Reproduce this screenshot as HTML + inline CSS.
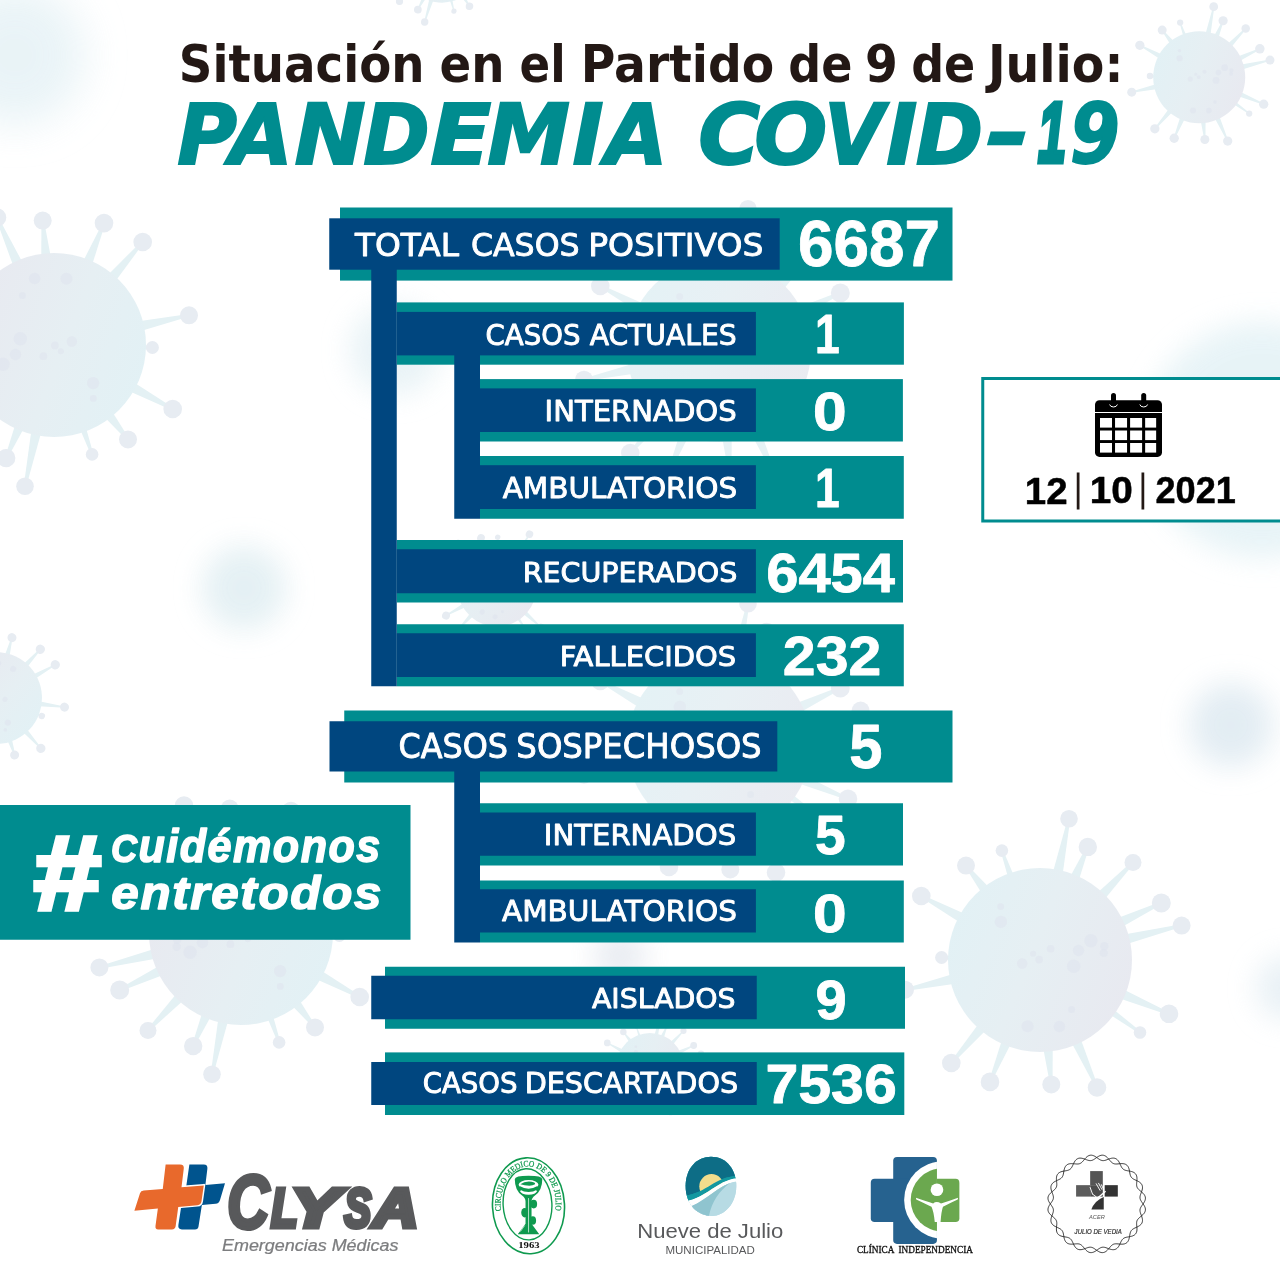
<!DOCTYPE html>
<html lang="es">
<head>
<meta charset="utf-8">
<title>Situación en el Partido de 9 de Julio: Pandemia COVID-19</title>
<style>
html,body{margin:0;padding:0;background:#fff}
body{width:1280px;height:1280px;overflow:hidden;font-family:"Liberation Sans",sans-serif}
svg{display:block}
text{white-space:pre}
</style>
</head>
<body>
<svg width="1280" height="1280" viewBox="0 0 1280 1280">
<rect width="1280" height="1280" fill="#fff"/>
<defs>
<linearGradient id="vg" x1="0" y1="0.3" x2="1" y2="0.7"><stop offset="0" stop-color="#e2f1f5"/><stop offset="0.45" stop-color="#e6eff3"/><stop offset="1" stop-color="#e8e9f0"/></linearGradient>
<g id="vir"><polygon points="21.4,-76.38 30.27,-140.94 27.73,-141.46 10.43,-78.63" fill="#e4f1f4"/><circle cx="29" cy="-141.2" r="8.8" fill="#e7ecf2"/><polygon points="35.96,-70.7 49,-112.59 46.6,-113.61 25.64,-75.06" fill="#e4f1f4"/><circle cx="47.8" cy="-113.1" r="9.2" fill="#e7ecf2"/><polygon points="58.66,-53.39 93.94,-96.6 92.06,-98.4 50.56,-61.12" fill="#e4f1f4"/><circle cx="93" cy="-97.5" r="8.5" fill="#e7ecf2"/><polygon points="73.99,-28.58 121.85,-55.82 120.75,-58.18 69.23,-38.72" fill="#e4f1f4"/><circle cx="121.3" cy="-57" r="9.5" fill="#e7ecf2"/><polygon points="78.21,-13.24 141.91,-33.14 141.29,-35.66 75.56,-24.12" fill="#e4f1f4"/><circle cx="141.6" cy="-34.4" r="9" fill="#e7ecf2"/><polygon points="70.87,35.62 128.5,55 129.5,52.6 75.18,25.29" fill="#e4f1f4"/><circle cx="129" cy="53.8" r="9.3" fill="#e7ecf2"/><polygon points="61.94,49.36 99.24,73.55 100.76,71.45 66.17,43.53" fill="#e4f1f4"/><circle cx="100" cy="72.5" r="6.3" fill="#e7ecf2"/><polygon points="27.18,74.52 55.81,128.03 58.19,126.97 37.4,69.94" fill="#e4f1f4"/><circle cx="57" cy="127.5" r="9.3" fill="#e7ecf2"/><polygon points="1.58,79.3 10.01,124.52 12.59,124.28 12.73,78.29" fill="#e4f1f4"/><circle cx="11.3" cy="124.4" r="9" fill="#e7ecf2"/><polygon points="-35.21,71.08 -51.2,121.41 -48.8,122.39 -24.84,75.33" fill="#e4f1f4"/><circle cx="-50" cy="121.9" r="9.3" fill="#e7ecf2"/><polygon points="-55.87,56.3 -89.69,102.15 -87.71,103.85 -47.39,63.61" fill="#e4f1f4"/><circle cx="-88.7" cy="103" r="9.3" fill="#e7ecf2"/><polygon points="-78.48,11.53 -135.28,28.43 -134.72,30.97 -76.07,22.47" fill="#e4f1f4"/><circle cx="-135" cy="29.7" r="9" fill="#e7ecf2"/><polygon points="-79,-5.61 -98.37,-3.8 -98.43,-1.2 -79.19,1.59" fill="#e4f1f4"/><circle cx="-98.4" cy="-2.5" r="6.5" fill="#e7ecf2"/><polygon points="-66.98,-42.48 -118.08,-65.14 -119.32,-62.86 -72.3,-32.62" fill="#e4f1f4"/><circle cx="-118.7" cy="-64" r="9.3" fill="#e7ecf2"/><polygon points="-44.4,-65.72 -72.98,-95.2 -75.02,-93.6 -53.22,-58.81" fill="#e4f1f4"/><circle cx="-74" cy="-94.4" r="9" fill="#e7ecf2"/><polygon points="-22.62,-75.9 -36.87,-109.83 -39.33,-108.97 -29.42,-73.53" fill="#e4f1f4"/><circle cx="-38.1" cy="-109.4" r="6.3" fill="#e7ecf2"/><circle r="92" fill="url(#vg)"/><circle cx="-39.11" cy="-38.09" r="6.18" fill="#e0e4ee" opacity="0.6"/><circle cx="50.94" cy="-19.26" r="6.69" fill="#e0e4ee" opacity="0.6"/><circle cx="33.7" cy="6.21" r="6.77" fill="#e0e4ee" opacity="0.6"/><circle cx="-39.32" cy="-53.39" r="3.45" fill="#e0e4ee" opacity="0.6"/><circle cx="-17.81" cy="3.5" r="5.18" fill="#e0e4ee" opacity="0.6"/><circle cx="-0.86" cy="-0.43" r="3.87" fill="#e0e4ee" opacity="0.6"/><circle cx="-12.42" cy="66.29" r="6.06" fill="#e0e4ee" opacity="0.6"/><circle cx="31.56" cy="49.46" r="3.56" fill="#e0e4ee" opacity="0.6"/><circle cx="-6.9" cy="-6.27" r="3.01" fill="#e0e4ee" opacity="0.6"/><circle cx="10.65" cy="-11.14" r="3.86" fill="#e0e4ee" opacity="0.6"/><circle cx="63.82" cy="-7.08" r="4.16" fill="#e0e4ee" opacity="0.6"/><circle cx="38.53" cy="-9.51" r="5.71" fill="#e0e4ee" opacity="0.6"/><circle cx="19.41" cy="66.48" r="5.76" fill="#e0e4ee" opacity="0.6"/><circle cx="64.33" cy="-13.72" r="4.2" fill="#e0e4ee" opacity="0.6"/></g>
<filter id="b2" x="-50%" y="-50%" width="200%" height="200%"><feGaussianBlur stdDeviation="2"/></filter>
<filter id="b4" x="-50%" y="-50%" width="200%" height="200%"><feGaussianBlur stdDeviation="4"/></filter>
<filter id="b8" x="-50%" y="-50%" width="200%" height="200%"><feGaussianBlur stdDeviation="8"/></filter>
<filter id="b14" x="-50%" y="-50%" width="200%" height="200%"><feGaussianBlur stdDeviation="14"/></filter>
<filter id="b20" x="-50%" y="-50%" width="200%" height="200%"><feGaussianBlur stdDeviation="20"/></filter>
</defs>
<g id="bg">
<circle cx="15" cy="55" r="70" fill="#e4f1f5" filter="url(#b20)" opacity="0.8"/>
<circle cx="244" cy="588" r="42" fill="#e2eff3" filter="url(#b14)" opacity="0.9"/>
<circle cx="1262" cy="440" r="118" fill="#e0f0f4" filter="url(#b14)" opacity="0.75"/>
<circle cx="1231" cy="725" r="42" fill="#e0ebf2" filter="url(#b14)" opacity="0.9"/>
<circle cx="1288" cy="988" r="32" fill="#e0ebf2" filter="url(#b14)" opacity="0.7"/>
<circle cx="395" cy="350" r="45" fill="#e0eef3" filter="url(#b14)" opacity="0.7"/>
<circle cx="620" cy="956" r="26" fill="#e3e7ee" filter="url(#b14)" opacity="0.8"/>
<use href="#vir" transform="translate(54 345) rotate(180) scale(1)"/>
<use href="#vir" transform="translate(1199.2 77.3) rotate(0) scale(0.5)"/>
<use href="#vir" transform="translate(1040 960) rotate(0) scale(1)"/>
<use href="#vir" transform="translate(241 933) rotate(180) scale(1)"/>
<use href="#vir" transform="translate(719 350) rotate(0) scale(1)" opacity="0.9"/>
<use href="#vir" transform="translate(719 745) rotate(0) scale(1)" opacity="0.9"/>
<use href="#vir" transform="translate(442 -36) rotate(185) scale(0.42)"/>
<use href="#vir" transform="translate(-4 698) rotate(200) scale(0.5)"/>
<use href="#vir" transform="translate(497 587) rotate(20) scale(0.43)"/>
<use href="#vir" transform="translate(650 1066) rotate(0) scale(0.36)"/>
</g>
<g id="title">
<text transform="translate(178.83 81.9) scale(1.0161 1)" font-family="'DejaVu Sans Condensed', sans-serif" font-weight="bold" font-size="51.1" fill="#231815" textLength="241.89" lengthAdjust="spacingAndGlyphs">Situación</text>
<text transform="translate(439.55 81.9) scale(1.0158 1)" font-family="'DejaVu Sans Condensed', sans-serif" font-weight="bold" font-size="51.1" fill="#231815" textLength="63.92" lengthAdjust="spacingAndGlyphs">en</text>
<text transform="translate(519.52 81.9) scale(0.9822 1)" font-family="'DejaVu Sans Condensed', sans-serif" font-weight="bold" font-size="51.1" fill="#231815" textLength="46.93" lengthAdjust="spacingAndGlyphs">el</text>
<text transform="translate(580.87 81.9) scale(1.0268 1)" font-family="'DejaVu Sans Condensed', sans-serif" font-weight="bold" font-size="51.1" fill="#231815" textLength="188.22" lengthAdjust="spacingAndGlyphs">Partido</text>
<text transform="translate(788.26 81.9)" font-family="'DejaVu Sans Condensed', sans-serif" font-weight="bold" font-size="51.1" fill="#231815" textLength="64.1" lengthAdjust="spacingAndGlyphs">de</text>
<text transform="translate(865.01 81.9) scale(1.0263 1)" font-family="'DejaVu Sans Condensed', sans-serif" font-weight="bold" font-size="51.1" fill="#231815" textLength="31.98" lengthAdjust="spacingAndGlyphs">9</text>
<text transform="translate(911.16 81.9)" font-family="'DejaVu Sans Condensed', sans-serif" font-weight="bold" font-size="51.1" fill="#231815" textLength="64.1" lengthAdjust="spacingAndGlyphs">de</text>
<text transform="translate(987.94 81.9) scale(1.0321 1)" font-family="'DejaVu Sans Condensed', sans-serif" font-weight="bold" font-size="51.1" fill="#231815" textLength="131.29" lengthAdjust="spacingAndGlyphs">Julio:</text>
<text aria-label="PANDEMIA COVID-19" font-family="'DejaVu Sans', sans-serif" font-weight="bold" font-style="oblique" fill="#008c8f" stroke="#008c8f" stroke-width="2" stroke-linejoin="miter"><tspan x="177.26" y="163.8" font-size="84.38" textLength="59.79" lengthAdjust="spacingAndGlyphs">P</tspan><tspan x="229.5" y="163.8" font-size="84.38" textLength="63.15" lengthAdjust="spacingAndGlyphs">A</tspan><tspan x="294.58" y="163.8" font-size="84.38" textLength="71.28" lengthAdjust="spacingAndGlyphs">N</tspan><tspan x="363.2" y="163.8" font-size="84.38" textLength="66.52" lengthAdjust="spacingAndGlyphs">D</tspan><tspan x="430.19" y="163.8" font-size="84.38" textLength="61.09" lengthAdjust="spacingAndGlyphs">E</tspan><tspan x="487.13" y="163.8" font-size="84.38" textLength="82.85" lengthAdjust="spacingAndGlyphs">M</tspan><tspan x="572.52" y="163.8" font-size="84.38" textLength="31.13" lengthAdjust="spacingAndGlyphs">I</tspan><tspan x="605.04" y="163.8" font-size="84.38" textLength="62.43" lengthAdjust="spacingAndGlyphs">A</tspan> <tspan x="698.35" y="163.54" font-size="83.96" textLength="61.81" lengthAdjust="spacingAndGlyphs">C</tspan><tspan x="754.19" y="163.54" font-size="83.96" textLength="73.02" lengthAdjust="spacingAndGlyphs">O</tspan><tspan x="824.31" y="163.8" font-size="84.38" textLength="59.78" lengthAdjust="spacingAndGlyphs">V</tspan><tspan x="886.32" y="163.8" font-size="84.38" textLength="31.13" lengthAdjust="spacingAndGlyphs">I</tspan><tspan x="915.77" y="163.8" font-size="84.38" textLength="67.39" lengthAdjust="spacingAndGlyphs">D</tspan><tspan x="987.88" y="159.25" font-size="77.5" textLength="37.2" lengthAdjust="spacingAndGlyphs" font-family="'Liberation Sans', sans-serif" font-weight="bold" font-style="italic" stroke-width="4.5">-</tspan><tspan x="1038.02" y="162.3" font-size="85.24" textLength="28.1" lengthAdjust="spacingAndGlyphs" font-family="'Liberation Sans', sans-serif" font-weight="bold" font-style="italic" stroke-width="5">1</tspan><tspan x="1069.96" y="163.34" font-size="83.71" textLength="49.85" lengthAdjust="spacingAndGlyphs">9</tspan></text>
</g>
<g id="bars">
<rect x="340" y="207.5" width="612.5" height="73.1" fill="#008c8f"/>
<rect x="396.75" y="302.4" width="507.15" height="62.3" fill="#008c8f"/>
<rect x="480" y="379.1" width="422.9" height="62.4" fill="#008c8f"/>
<rect x="480" y="456" width="423.8" height="62.75" fill="#008c8f"/>
<rect x="396.75" y="540" width="506.25" height="62.5" fill="#008c8f"/>
<rect x="396.75" y="624.25" width="507.05" height="62.05" fill="#008c8f"/>
<rect x="344.25" y="710.5" width="608.25" height="72" fill="#008c8f"/>
<rect x="480" y="803.25" width="423" height="62.25" fill="#008c8f"/>
<rect x="480" y="880.5" width="423.8" height="62" fill="#008c8f"/>
<rect x="385" y="966.75" width="520" height="62" fill="#008c8f"/>
<rect x="385" y="1052.4" width="519.3" height="62.6" fill="#008c8f"/>
<rect x="329.25" y="218.3" width="450.45" height="51.4" fill="#00467f"/>
<rect x="396.75" y="311.9" width="359.15" height="43.5" fill="#00467f"/>
<rect x="480" y="388.4" width="275.9" height="43.6" fill="#00467f"/>
<rect x="480" y="465.2" width="275.9" height="43.8" fill="#00467f"/>
<rect x="396.75" y="549.25" width="359.15" height="44" fill="#00467f"/>
<rect x="396.75" y="633.25" width="359.15" height="43.75" fill="#00467f"/>
<rect x="329.5" y="721.25" width="447.8" height="50.25" fill="#00467f"/>
<rect x="480" y="812.5" width="275.9" height="43.25" fill="#00467f"/>
<rect x="480" y="889.25" width="275.9" height="43.25" fill="#00467f"/>
<rect x="371.25" y="975.75" width="385.5" height="43.5" fill="#00467f"/>
<rect x="371.25" y="1062" width="385.5" height="43" fill="#00467f"/>
<rect x="371.25" y="269" width="25.5" height="417.25" fill="#00467f"/>
<rect x="454.25" y="355" width="25.75" height="163.75" fill="#00467f"/>
<rect x="454.25" y="771" width="25.75" height="171.5" fill="#00467f"/>
</g>
<g id="labels">
<text transform="translate(355.03 255.95) scale(1.0269 1)" font-family="'DejaVu Sans', sans-serif" font-size="31.92" fill="#fff" stroke="#fff" stroke-width="0.9" stroke-linejoin="round" textLength="101.26" lengthAdjust="spacingAndGlyphs">TOTAL</text>
<text transform="translate(470.91 255.95) scale(0.9907 1)" font-family="'DejaVu Sans', sans-serif" font-size="31.92" fill="#fff" stroke="#fff" stroke-width="0.9" stroke-linejoin="round" textLength="109.76" lengthAdjust="spacingAndGlyphs">CASOS</text>
<text transform="translate(588.13 255.95) scale(1.0335 1)" font-family="'DejaVu Sans', sans-serif" font-size="31.92" fill="#fff" stroke="#fff" stroke-width="0.9" stroke-linejoin="round" textLength="169.61" lengthAdjust="spacingAndGlyphs">POSITIVOS</text>
<text transform="translate(485.53 345.05) scale(0.9911 1)" font-family="'DejaVu Sans', sans-serif" font-size="27.88" fill="#fff" stroke="#fff" stroke-width="0.9" stroke-linejoin="round" textLength="95.87" lengthAdjust="spacingAndGlyphs">CASOS</text>
<text transform="translate(589.64 345.05) scale(1.0116 1)" font-family="'DejaVu Sans', sans-serif" font-size="27.88" fill="#fff" stroke="#fff" stroke-width="0.9" stroke-linejoin="round" textLength="145.39" lengthAdjust="spacingAndGlyphs">ACTUALES</text>
<text transform="translate(544.62 420.8) scale(1.0429 1)" font-family="'DejaVu Sans', sans-serif" font-size="27.88" fill="#fff" stroke="#fff" stroke-width="0.9" stroke-linejoin="round" textLength="184.11" lengthAdjust="spacingAndGlyphs">INTERNADOS</text>
<text transform="translate(502.73 497.55) scale(1.0562 1)" font-family="'DejaVu Sans', sans-serif" font-size="27.88" fill="#fff" stroke="#fff" stroke-width="0.9" stroke-linejoin="round" textLength="221.93" lengthAdjust="spacingAndGlyphs">AMBULATORIOS</text>
<text transform="translate(522.67 581.55) scale(1.0496 1)" font-family="'DejaVu Sans', sans-serif" font-size="27.19" fill="#fff" stroke="#fff" stroke-width="0.9" stroke-linejoin="round" textLength="204.54" lengthAdjust="spacingAndGlyphs">RECUPERADOS</text>
<text transform="translate(559.63 665.8) scale(1.0642 1)" font-family="'DejaVu Sans', sans-serif" font-size="27.19" fill="#fff" stroke="#fff" stroke-width="0.9" stroke-linejoin="round" textLength="165.83" lengthAdjust="spacingAndGlyphs">FALLECIDOS</text>
<text transform="translate(398.45 758.3) scale(0.9647 1)" font-family="'DejaVu Sans', sans-serif" font-size="33.01" fill="#fff" stroke="#fff" stroke-width="0.9" stroke-linejoin="round" textLength="113.53" lengthAdjust="spacingAndGlyphs">CASOS</text>
<text transform="translate(516.35 758.3) scale(0.9795 1)" font-family="'DejaVu Sans', sans-serif" font-size="33.01" fill="#fff" stroke="#fff" stroke-width="0.9" stroke-linejoin="round" textLength="250.42" lengthAdjust="spacingAndGlyphs">SOSPECHOSOS</text>
<text transform="translate(543.86 844.55) scale(1.0443 1)" font-family="'DejaVu Sans', sans-serif" font-size="27.88" fill="#fff" stroke="#fff" stroke-width="0.9" stroke-linejoin="round" textLength="184.11" lengthAdjust="spacingAndGlyphs">INTERNADOS</text>
<text transform="translate(501.98 921.3) scale(1.0585 1)" font-family="'DejaVu Sans', sans-serif" font-size="27.88" fill="#fff" stroke="#fff" stroke-width="0.9" stroke-linejoin="round" textLength="221.93" lengthAdjust="spacingAndGlyphs">AMBULATORIOS</text>
<text transform="translate(591.99 1008.3) scale(1.0418 1)" font-family="'DejaVu Sans', sans-serif" font-size="27.19" fill="#fff" stroke="#fff" stroke-width="0.9" stroke-linejoin="round" textLength="137.86" lengthAdjust="spacingAndGlyphs">AISLADOS</text>
<text transform="translate(422.63 1093.3) scale(0.9911 1)" font-family="'DejaVu Sans', sans-serif" font-size="27.88" fill="#fff" stroke="#fff" stroke-width="0.9" stroke-linejoin="round" textLength="95.87" lengthAdjust="spacingAndGlyphs">CASOS</text>
<text transform="translate(524.66 1093.3) scale(1.0279 1)" font-family="'DejaVu Sans', sans-serif" font-size="27.88" fill="#fff" stroke="#fff" stroke-width="0.9" stroke-linejoin="round" textLength="207.69" lengthAdjust="spacingAndGlyphs">DESCARTADOS</text>
</g>
<g id="nums">
<text transform="translate(798.01 266.46) scale(0.9932 1)" font-family="'Liberation Sans', sans-serif" font-weight="bold" font-size="64.24" fill="#fff" stroke="#fff" stroke-width="0.8" stroke-linejoin="round" textLength="142.91" lengthAdjust="spacingAndGlyphs">6687</text>
<text transform="translate(815.12 353.35) scale(0.8065 1)" font-family="'Liberation Sans', sans-serif" font-weight="bold" font-size="55.2" fill="#fff" stroke="#fff" stroke-width="0.8" stroke-linejoin="round" textLength="30.7" lengthAdjust="spacingAndGlyphs">1</text>
<text transform="translate(812.98 430.31) scale(1.1118 1)" font-family="'Liberation Sans', sans-serif" font-weight="bold" font-size="54.35" fill="#fff" stroke="#fff" stroke-width="0.8" stroke-linejoin="round" textLength="30.23" lengthAdjust="spacingAndGlyphs">0</text>
<text transform="translate(815.12 507.1) scale(0.8065 1)" font-family="'Liberation Sans', sans-serif" font-weight="bold" font-size="55.2" fill="#fff" stroke="#fff" stroke-width="0.8" stroke-linejoin="round" textLength="30.7" lengthAdjust="spacingAndGlyphs">1</text>
<text transform="translate(766.23 592.04) scale(1.0317 1)" font-family="'Liberation Sans', sans-serif" font-weight="bold" font-size="56.11" fill="#fff" stroke="#fff" stroke-width="0.8" stroke-linejoin="round" textLength="124.83" lengthAdjust="spacingAndGlyphs">6454</text>
<text transform="translate(782.84 675.16) scale(1.0685 1)" font-family="'Liberation Sans', sans-serif" font-weight="bold" font-size="55.21" fill="#fff" stroke="#fff" stroke-width="0.8" stroke-linejoin="round" textLength="92.12" lengthAdjust="spacingAndGlyphs">232</text>
<text transform="translate(849.36 767.72) scale(0.9421 1)" font-family="'Liberation Sans', sans-serif" font-weight="bold" font-size="63.37" fill="#fff" stroke="#fff" stroke-width="0.8" stroke-linejoin="round" textLength="35.24" lengthAdjust="spacingAndGlyphs">5</text>
<text transform="translate(814.99 854.04) scale(0.9818 1)" font-family="'Liberation Sans', sans-serif" font-weight="bold" font-size="56.2" fill="#fff" stroke="#fff" stroke-width="0.8" stroke-linejoin="round" textLength="31.26" lengthAdjust="spacingAndGlyphs">5</text>
<text transform="translate(812.98 932.06) scale(1.1118 1)" font-family="'Liberation Sans', sans-serif" font-weight="bold" font-size="54.35" fill="#fff" stroke="#fff" stroke-width="0.8" stroke-linejoin="round" textLength="30.23" lengthAdjust="spacingAndGlyphs">0</text>
<text transform="translate(815.44 1019.05) scale(1.0122 1)" font-family="'Liberation Sans', sans-serif" font-weight="bold" font-size="55.41" fill="#fff" stroke="#fff" stroke-width="0.8" stroke-linejoin="round" textLength="30.82" lengthAdjust="spacingAndGlyphs">9</text>
<text transform="translate(765.39 1102.91) scale(1.0631 1)" font-family="'Liberation Sans', sans-serif" font-weight="bold" font-size="55.56" fill="#fff" stroke="#fff" stroke-width="0.8" stroke-linejoin="round" textLength="123.61" lengthAdjust="spacingAndGlyphs">7536</text>
</g>
<g id="hashtag" aria-label="#Cuidémonos entretodos">
<rect x="0" y="805" width="410.5" height="134.75" fill="#008c8f"/>
<text transform="translate(32.06 910.35) scale(1.1372 1)" font-family="'Liberation Sans', sans-serif" font-weight="bold" font-style="italic" font-size="106.62" fill="#fff" stroke="#fff" stroke-width="4.5" stroke-linejoin="miter" textLength="59.3" lengthAdjust="spacingAndGlyphs">#</text>
<text aria-label="Cuidémonos" transform="translate(110.94 862.28) scale(0.9256 1)" font-family="'Liberation Sans', sans-serif" font-weight="bold" font-style="italic" font-size="46.58" letter-spacing="1.6" fill="#fff" stroke="#fff" stroke-width="1.5" stroke-linejoin="round"><tspan font-size="39.05">C</tspan>uidémonos</text>
<text aria-label="entretodos" transform="translate(111.27 909.18) scale(1.0515 1)" font-family="'Liberation Sans', sans-serif" font-weight="bold" font-style="italic" font-size="46.94" letter-spacing="1.6" fill="#fff" stroke="#fff" stroke-width="1.5" stroke-linejoin="round">entretodos</text>
</g>
<g id="date">
<rect x="982.75" y="378.5" width="320" height="142.5" fill="#fff" stroke="#008c8f" stroke-width="3"/>
<g fill="#000">
<rect x="1095" y="400.2" width="67" height="56.7" rx="4.5"/>
<rect x="1111" y="393" width="5" height="13" rx="2.5"/>
<rect x="1141.2" y="393" width="5" height="13" rx="2.5"/>
</g>
<rect x="1095" y="412" width="67" height="1" fill="#fff"/>
<g fill="none" stroke="#fff" stroke-width="1"><path d="M1109.6 404.5a4 3.2 0 0 0 7.8 0"/><path d="M1139.8 404.5a4 3.2 0 0 0 7.8 0"/></g>
<rect x="1100" y="418" width="12" height="9.6" fill="#fff"/>
<rect x="1115.05" y="418" width="12" height="9.6" fill="#fff"/>
<rect x="1130.1" y="418" width="12" height="9.6" fill="#fff"/>
<rect x="1145.15" y="418" width="11" height="9.6" fill="#fff"/>
<rect x="1100" y="430.5" width="12" height="9.6" fill="#fff"/>
<rect x="1115.05" y="430.5" width="12" height="9.6" fill="#fff"/>
<rect x="1130.1" y="430.5" width="12" height="9.6" fill="#fff"/>
<rect x="1145.15" y="430.5" width="11" height="9.6" fill="#fff"/>
<rect x="1100" y="443" width="12" height="9.6" fill="#fff"/>
<rect x="1115.05" y="443" width="12" height="9.6" fill="#fff"/>
<rect x="1130.1" y="443" width="12" height="9.6" fill="#fff"/>
<rect x="1145.15" y="443" width="11" height="9.6" fill="#fff"/>
<text transform="translate(1024.85 503.5) scale(1.0418 1)" font-family="'Liberation Sans', sans-serif" font-weight="bold" font-size="36.92" fill="#000" stroke="#000" stroke-width="0.5" stroke-linejoin="round" textLength="41.07" lengthAdjust="spacingAndGlyphs">12</text>
<text transform="translate(1089.83 503.14) scale(1.0636 1)" font-family="'Liberation Sans', sans-serif" font-weight="bold" font-size="36.4" fill="#000" stroke="#000" stroke-width="0.5" stroke-linejoin="round" textLength="40.48" lengthAdjust="spacingAndGlyphs">10</text>
<text transform="translate(1155.49 503.14) scale(0.9922 1)" font-family="'Liberation Sans', sans-serif" font-weight="bold" font-size="36.4" fill="#000" stroke="#000" stroke-width="0.5" stroke-linejoin="round" textLength="80.97" lengthAdjust="spacingAndGlyphs">2021</text>
<rect x="1076.75" y="472.5" width="2.75" height="37" fill="#231815"/>
<rect x="1141.5" y="472.5" width="2.75" height="37" fill="#231815"/>
</g>
<g id="logo-clysa" aria-label="CLYSA Emergencias Médicas">
<g transform="translate(120 1150) scale(0.125)">
<path fill="#00548e" d="M555,115 L670,115 Q703,115 699,150 L683,280 L840,265 L800,400 Q792,428 765,430 L655,440 L628,612 Q625,635 600,635 L495,635 Q462,635 467,600 L490,450 L400,460 L420,300 L530,290 Z"/>
<path fill="#e8692c" stroke="#fff" stroke-width="24" stroke-linejoin="round" paint-order="stroke" d="M365,115 L480,115 Q515,115 510,150 L492,297 L670,283 L652,410 Q648,438 620,441 L466,455 L445,610 Q442,635 415,635 L305,635 Q280,635 284,605 L303,468 L115,485 L160,345 Q166,326 190,324 L342,311 Z"/>
</g>
<text aria-label="CLYSA" font-family="'Liberation Sans', sans-serif" font-weight="bold" font-style="italic" fill="#58595b" stroke="#58595b" stroke-width="4" stroke-linejoin="miter"><tspan x="227.08" y="1227.75" font-size="75.05" textLength="42.22" lengthAdjust="spacingAndGlyphs">C</tspan><tspan x="271.03" y="1227.1" font-size="55.27" textLength="26.72" lengthAdjust="spacingAndGlyphs" font-family="'Liberation Sans', sans-serif" font-weight="bold" font-style="italic" stroke-width="5">L</tspan><tspan x="290.43" y="1227.1" font-size="55.27" textLength="49.18" lengthAdjust="spacingAndGlyphs" font-family="'Liberation Sans', sans-serif" font-weight="bold" font-style="italic" stroke-width="5">Y</tspan><tspan x="344.3" y="1227.15" font-size="55.41" textLength="26.89" lengthAdjust="spacingAndGlyphs" font-family="'Liberation Sans', sans-serif" font-weight="bold" font-style="italic" stroke-width="5">S</tspan><tspan x="372.76" y="1227.1" font-size="55.27" textLength="45.59" lengthAdjust="spacingAndGlyphs" font-family="'Liberation Sans', sans-serif" font-weight="bold" font-style="italic" stroke-width="5">A</tspan></text>
<text transform="translate(221.99 1250.97) scale(1.0406 1)" font-family="'Liberation Sans', sans-serif" font-style="italic" font-size="17.24" fill="#7c7d7f" stroke="#7c7d7f" stroke-width="0.25" stroke-linejoin="round" textLength="169.56" lengthAdjust="spacingAndGlyphs">Emergencias Médicas</text>
</g>
<g id="logo-circulo" aria-label="CIRCULO MEDICO DE 9 DE JULIO 1963">
<ellipse cx="528.5" cy="1205.8" rx="36" ry="48" fill="#fff" stroke="#0f9a4f" stroke-width="1.6" transform="rotate(-3 528.5 1205.8)"/>
<ellipse cx="527.5" cy="1204.3" rx="24.4" ry="35.6" fill="none" stroke="#0f9a4f" stroke-width="1.4" transform="rotate(-3 527.5 1204.3)"/>
<path id="cmpath" fill="none" d="M500.94,1211.04 A27.6,38.6 0 1 1 555.46,1211.04"/>
<text font-family="'Liberation Serif', serif" font-size="8.4" fill="#0f9a4f" stroke="#0f9a4f" stroke-width="0.25" textLength="116" lengthAdjust="spacingAndGlyphs"><textPath href="#cmpath" startOffset="0" textLength="116" lengthAdjust="spacingAndGlyphs">CIRCULO MEDICO DE 9 DE JULIO</textPath></text>
<text transform="translate(518.24 1248.22) scale(1.3597 1)" font-family="'Liberation Serif', serif" font-weight="bold" font-size="7.88" fill="#111" textLength="15.76" lengthAdjust="spacingAndGlyphs">1963</text>
<g transform="translate(480 1150) scale(0.0859)" fill="#0f9a4f">
<path d="M405,340 Q405,300 565,300 Q725,300 725,340 Q725,470 640,530 Q600,560 600,600 L600,860 L690,980 L440,980 L530,860 L530,600 Q530,560 490,530 Q405,470 405,340 Z"/>
<ellipse cx="565" cy="405" rx="115" ry="55" fill="#fff"/>
<path d="M470,400 Q520,360 600,370 Q650,380 640,400 Q600,425 520,410 Z" fill="#0f9a4f"/>
<ellipse cx="565" cy="480" rx="95" ry="40" fill="#fff"/>
<path d="M460,460 Q565,520 670,460 L670,420 Q565,480 460,420 Z" fill="#0f9a4f"/>
<ellipse cx="625" cy="630" rx="40" ry="50"/>
<ellipse cx="520" cy="730" rx="40" ry="55"/>
<ellipse cx="615" cy="820" rx="38" ry="50"/>
<path d="M565,560 L565,960" stroke="#fff" stroke-width="8" fill="none"/>
<path d="M520,880 L470,950" stroke="#fff" stroke-width="7" fill="none"/>
</g>
</g>
<g id="logo-nueve" aria-label="Nueve de Julio MUNICIPALIDAD">
<defs><clipPath id="egg"><path d="M711,1156.7 C727,1156.7 736.3,1170 736.3,1186 C736.3,1204 724,1216 712,1216 C698,1216 685.6,1205 685.6,1186 C685.6,1168 697,1156.7 711,1156.7 Z"/></clipPath></defs>
<g clip-path="url(#egg)">
<rect x="680" y="1150" width="62" height="72" fill="#b7dbe4"/>
<path d="M680,1222 L680,1200 C700,1204 712,1186 736,1180 C722,1186 712,1198 708,1222 Z" fill="#8fc4cf"/>
<path d="M680,1150 L742,1150 L742,1181.5 C718,1180 708,1206 680,1209 Z" fill="#fff"/>
<path d="M680,1150 L742,1150 L742,1178 C716,1178 708,1200 680,1202 Z" fill="#1298a0"/>
<path d="M680,1150 L742,1150 L742,1176 C714,1174 708,1195 680,1196 Z" fill="#0d6d86"/>
<circle cx="711.5" cy="1186.3" r="12.2" fill="#f3dd8c"/>
<path d="M680,1196 C708,1195 714,1174 742,1176 L742,1178 C716,1178 708,1200 680,1202 Z" fill="#1298a0"/>
<path d="M680,1202 C708,1200 716,1178 742,1178 L742,1181.5 C718,1180 708,1206 680,1209 Z" fill="#fff"/>
<path d="M680,1209 C708,1206 718,1180 742,1181.5 L742,1222 L680,1222 Z" fill="#b7dbe4"/>
<path d="M680,1222 L680,1209 C700,1207 712,1190 730,1183 C718,1192 710,1204 708,1222 Z" fill="#8fc4cf"/>
</g>
<text transform="translate(637.18 1238) scale(1.0619 1)" font-family="'Liberation Sans', sans-serif" font-size="20.8" fill="#58595b" textLength="137.6" lengthAdjust="spacingAndGlyphs">Nueve de Julio</text>
<text transform="translate(665.45 1253.6) scale(0.9778 1)" font-family="'Liberation Sans', sans-serif" font-size="11.78" fill="#58595b" textLength="91.43" lengthAdjust="spacingAndGlyphs">MUNICIPALIDAD</text>
</g>
<g id="logo-clinica" aria-label="CLÍNICA INDEPENDENCIA">
<defs><clipPath id="clL"><rect x="0" y="0" width="795" height="1200"/></clipPath></defs>
<g transform="translate(850 1140) scale(0.109375)">
<rect x="395" y="155" width="400" height="795" rx="35" fill="#26628f"/>
<rect x="190" y="355" width="605" height="395" rx="35" fill="#26628f"/>
<rect x="700" y="355" width="300" height="395" rx="35" fill="#6ba84f"/>
<g clip-path="url(#clL)"><circle cx="849" cy="548" r="354" fill="#fff"/><circle cx="843" cy="548" r="288" fill="#6ba84f"/></g>
<rect x="740" y="400" width="100" height="300" fill="#6ba84f"/>
<circle cx="795" cy="455" r="58" fill="#fff"/>
<path fill="#fff" d="M603,528 Q700,560 760,580 Q790,555 832,580 Q900,560 988,528 L985,545 Q900,585 850,610 Q835,650 828,750 L775,750 Q765,650 745,610 Q690,585 606,545 Z"/>
</g>
<text transform="translate(856.91 1252.53) scale(0.8834 1)" font-family="'Liberation Serif', serif" font-size="10.46" fill="#111" stroke="#111" stroke-width="0.35" stroke-linejoin="round" textLength="131.3" lengthAdjust="spacingAndGlyphs">CLÍNICA  INDEPENDENCIA</text>
</g>
<g id="logo-vedia" aria-label="ACER JULIO DE VEDIA">
<polyline points="1143.1,1203.9 1143.65,1204.72 1144.17,1205.56 1144.62,1206.41 1144.99,1207.28 1145.25,1208.15 1145.4,1209.02 1145.42,1209.88 1145.31,1210.73 1145.06,1211.56 1144.7,1212.36 1144.22,1213.14 1143.64,1213.88 1142.98,1214.58 1142.27,1215.26 1141.52,1215.91 1140.76,1216.53 1140.02,1217.14 1139.32,1217.75 1138.67,1218.35 1138.1,1218.97 1137.62,1219.61 1137.23,1220.28 1136.94,1220.98 1136.74,1221.73 1136.63,1222.52 1136.6,1223.36 1136.63,1224.24 1136.7,1225.17 1136.79,1226.12 1136.88,1227.1 1136.95,1228.09 1136.98,1229.07 1136.95,1230.04 1136.83,1230.97 1136.62,1231.86 1136.32,1232.68 1135.9,1233.44 1135.38,1234.12 1134.76,1234.72 1134.04,1235.23 1133.23,1235.66 1132.36,1236.01 1131.44,1236.29 1130.48,1236.52 1129.51,1236.71 1128.54,1236.87 1127.6,1237.03 1126.69,1237.2 1125.82,1237.4 1125.02,1237.65 1124.28,1237.96 1123.61,1238.35 1123.01,1238.81 1122.46,1239.36 1121.97,1239.99 1121.52,1240.7 1121.11,1241.48 1120.71,1242.32 1120.31,1243.19 1119.9,1244.08 1119.47,1244.97 1119,1245.84 1118.49,1246.66 1117.92,1247.41 1117.3,1248.07 1116.62,1248.63 1115.88,1249.08 1115.09,1249.41 1114.25,1249.62 1113.37,1249.7 1112.46,1249.67 1111.53,1249.54 1110.59,1249.32 1109.64,1249.04 1108.71,1248.72 1107.79,1248.38 1106.89,1248.04 1106.02,1247.73 1105.17,1247.48 1104.35,1247.29 1103.56,1247.19 1102.78,1247.19 1102.03,1247.29 1101.28,1247.49 1100.54,1247.79 1099.8,1248.19 1099.05,1248.65 1098.28,1249.17 1097.5,1249.73 1096.7,1250.3 1095.88,1250.85 1095.04,1251.37 1094.19,1251.82 1093.32,1252.19 1092.45,1252.45 1091.58,1252.6 1090.72,1252.62 1089.87,1252.51 1089.04,1252.26 1088.24,1251.9 1087.46,1251.42 1086.72,1250.84 1086.02,1250.18 1085.34,1249.47 1084.69,1248.72 1084.07,1247.96 1083.46,1247.22 1082.85,1246.52 1082.25,1245.87 1081.63,1245.3 1080.99,1244.82 1080.32,1244.43 1079.62,1244.14 1078.87,1243.94 1078.08,1243.83 1077.24,1243.8 1076.36,1243.83 1075.43,1243.9 1074.48,1243.99 1073.5,1244.08 1072.51,1244.15 1071.53,1244.18 1070.56,1244.15 1069.63,1244.03 1068.74,1243.82 1067.92,1243.52 1067.16,1243.1 1066.48,1242.58 1065.88,1241.96 1065.37,1241.24 1064.94,1240.43 1064.59,1239.56 1064.31,1238.64 1064.08,1237.68 1063.89,1236.71 1063.73,1235.74 1063.57,1234.8 1063.4,1233.89 1063.2,1233.02 1062.95,1232.22 1062.64,1231.48 1062.25,1230.81 1061.79,1230.21 1061.24,1229.66 1060.61,1229.17 1059.9,1228.72 1059.12,1228.31 1058.28,1227.91 1057.41,1227.51 1056.52,1227.1 1055.63,1226.67 1054.76,1226.2 1053.94,1225.69 1053.19,1225.12 1052.53,1224.5 1051.97,1223.82 1051.52,1223.08 1051.19,1222.29 1050.98,1221.45 1050.9,1220.57 1050.93,1219.66 1051.06,1218.73 1051.28,1217.79 1051.56,1216.84 1051.88,1215.91 1052.22,1214.99 1052.56,1214.09 1052.87,1213.22 1053.12,1212.37 1053.31,1211.55 1053.41,1210.76 1053.41,1209.98 1053.31,1209.23 1053.11,1208.48 1052.81,1207.74 1052.41,1207 1051.95,1206.25 1051.43,1205.48 1050.87,1204.7 1050.3,1203.9 1049.75,1203.08 1049.23,1202.24 1048.78,1201.39 1048.41,1200.52 1048.15,1199.65 1048,1198.78 1047.98,1197.92 1048.09,1197.07 1048.34,1196.24 1048.7,1195.44 1049.18,1194.66 1049.76,1193.92 1050.42,1193.22 1051.13,1192.54 1051.88,1191.89 1052.64,1191.27 1053.38,1190.66 1054.08,1190.05 1054.73,1189.45 1055.3,1188.83 1055.78,1188.19 1056.17,1187.52 1056.46,1186.82 1056.66,1186.07 1056.77,1185.28 1056.8,1184.44 1056.77,1183.56 1056.7,1182.63 1056.61,1181.68 1056.52,1180.7 1056.45,1179.71 1056.42,1178.73 1056.45,1177.76 1056.57,1176.83 1056.78,1175.94 1057.08,1175.12 1057.5,1174.36 1058.02,1173.68 1058.64,1173.08 1059.36,1172.57 1060.17,1172.14 1061.04,1171.79 1061.96,1171.51 1062.92,1171.28 1063.89,1171.09 1064.86,1170.93 1065.8,1170.77 1066.71,1170.6 1067.58,1170.4 1068.38,1170.15 1069.12,1169.84 1069.79,1169.45 1070.39,1168.99 1070.94,1168.44 1071.43,1167.81 1071.88,1167.1 1072.29,1166.32 1072.69,1165.48 1073.09,1164.61 1073.5,1163.72 1073.93,1162.83 1074.4,1161.96 1074.91,1161.14 1075.48,1160.39 1076.1,1159.73 1076.78,1159.17 1077.52,1158.72 1078.31,1158.39 1079.15,1158.18 1080.03,1158.1 1080.94,1158.13 1081.87,1158.26 1082.81,1158.48 1083.76,1158.76 1084.69,1159.08 1085.61,1159.42 1086.51,1159.76 1087.38,1160.07 1088.23,1160.32 1089.05,1160.51 1089.84,1160.61 1090.62,1160.61 1091.37,1160.51 1092.12,1160.31 1092.86,1160.01 1093.6,1159.61 1094.35,1159.15 1095.12,1158.63 1095.9,1158.07 1096.7,1157.5 1097.52,1156.95 1098.36,1156.43 1099.21,1155.98 1100.08,1155.61 1100.95,1155.35 1101.82,1155.2 1102.68,1155.18 1103.53,1155.29 1104.36,1155.54 1105.16,1155.9 1105.94,1156.38 1106.68,1156.96 1107.38,1157.62 1108.06,1158.33 1108.71,1159.08 1109.33,1159.84 1109.94,1160.58 1110.55,1161.28 1111.15,1161.93 1111.77,1162.5 1112.41,1162.98 1113.08,1163.37 1113.78,1163.66 1114.53,1163.86 1115.32,1163.97 1116.16,1164 1117.04,1163.97 1117.97,1163.9 1118.92,1163.81 1119.9,1163.72 1120.89,1163.65 1121.87,1163.62 1122.84,1163.65 1123.77,1163.77 1124.66,1163.98 1125.48,1164.28 1126.24,1164.7 1126.92,1165.22 1127.52,1165.84 1128.03,1166.56 1128.46,1167.37 1128.81,1168.24 1129.09,1169.16 1129.32,1170.12 1129.51,1171.09 1129.67,1172.06 1129.83,1173 1130,1173.91 1130.2,1174.78 1130.45,1175.58 1130.76,1176.32 1131.15,1176.99 1131.61,1177.59 1132.16,1178.14 1132.79,1178.63 1133.5,1179.08 1134.28,1179.49 1135.12,1179.89 1135.99,1180.29 1136.88,1180.7 1137.77,1181.13 1138.64,1181.6 1139.46,1182.11 1140.21,1182.68 1140.87,1183.3 1141.43,1183.98 1141.88,1184.72 1142.21,1185.51 1142.42,1186.35 1142.5,1187.23 1142.47,1188.14 1142.34,1189.07 1142.12,1190.01 1141.84,1190.96 1141.52,1191.89 1141.18,1192.81 1140.84,1193.71 1140.53,1194.58 1140.28,1195.43 1140.09,1196.25 1139.99,1197.04 1139.99,1197.82 1140.09,1198.57 1140.29,1199.32 1140.59,1200.06 1140.99,1200.8 1141.45,1201.55 1141.97,1202.32 1142.53,1203.1 1143.1,1203.9" fill="none" stroke="#222" stroke-width="0.9"/>
<polyline points="1143.1,1203.9 1142.53,1204.7 1141.97,1205.48 1141.45,1206.25 1140.99,1207 1140.59,1207.74 1140.29,1208.48 1140.09,1209.23 1139.99,1209.98 1139.99,1210.76 1140.09,1211.55 1140.28,1212.37 1140.53,1213.22 1140.84,1214.09 1141.18,1214.99 1141.52,1215.91 1141.84,1216.84 1142.12,1217.79 1142.34,1218.73 1142.47,1219.66 1142.5,1220.57 1142.42,1221.45 1142.21,1222.29 1141.88,1223.08 1141.43,1223.82 1140.87,1224.5 1140.21,1225.12 1139.46,1225.69 1138.64,1226.2 1137.77,1226.67 1136.88,1227.1 1135.99,1227.51 1135.12,1227.91 1134.28,1228.31 1133.5,1228.72 1132.79,1229.17 1132.16,1229.66 1131.61,1230.21 1131.15,1230.81 1130.76,1231.48 1130.45,1232.22 1130.2,1233.02 1130,1233.89 1129.83,1234.8 1129.67,1235.74 1129.51,1236.71 1129.32,1237.68 1129.09,1238.64 1128.81,1239.56 1128.46,1240.43 1128.03,1241.24 1127.52,1241.96 1126.92,1242.58 1126.24,1243.1 1125.48,1243.52 1124.66,1243.82 1123.77,1244.03 1122.84,1244.15 1121.87,1244.18 1120.89,1244.15 1119.9,1244.08 1118.92,1243.99 1117.97,1243.9 1117.04,1243.83 1116.16,1243.8 1115.32,1243.83 1114.53,1243.94 1113.78,1244.14 1113.08,1244.43 1112.41,1244.82 1111.77,1245.3 1111.15,1245.87 1110.55,1246.52 1109.94,1247.22 1109.33,1247.96 1108.71,1248.72 1108.06,1249.47 1107.38,1250.18 1106.68,1250.84 1105.94,1251.42 1105.16,1251.9 1104.36,1252.26 1103.53,1252.51 1102.68,1252.62 1101.82,1252.6 1100.95,1252.45 1100.08,1252.19 1099.21,1251.82 1098.36,1251.37 1097.52,1250.85 1096.7,1250.3 1095.9,1249.73 1095.12,1249.17 1094.35,1248.65 1093.6,1248.19 1092.86,1247.79 1092.12,1247.49 1091.37,1247.29 1090.62,1247.19 1089.84,1247.19 1089.05,1247.29 1088.23,1247.48 1087.38,1247.73 1086.51,1248.04 1085.61,1248.38 1084.69,1248.72 1083.76,1249.04 1082.81,1249.32 1081.87,1249.54 1080.94,1249.67 1080.03,1249.7 1079.15,1249.62 1078.31,1249.41 1077.52,1249.08 1076.78,1248.63 1076.1,1248.07 1075.48,1247.41 1074.91,1246.66 1074.4,1245.84 1073.93,1244.97 1073.5,1244.08 1073.09,1243.19 1072.69,1242.32 1072.29,1241.48 1071.88,1240.7 1071.43,1239.99 1070.94,1239.36 1070.39,1238.81 1069.79,1238.35 1069.12,1237.96 1068.38,1237.65 1067.58,1237.4 1066.71,1237.2 1065.8,1237.03 1064.86,1236.87 1063.89,1236.71 1062.92,1236.52 1061.96,1236.29 1061.04,1236.01 1060.17,1235.66 1059.36,1235.23 1058.64,1234.72 1058.02,1234.12 1057.5,1233.44 1057.08,1232.68 1056.78,1231.86 1056.57,1230.97 1056.45,1230.04 1056.42,1229.07 1056.45,1228.09 1056.52,1227.1 1056.61,1226.12 1056.7,1225.17 1056.77,1224.24 1056.8,1223.36 1056.77,1222.52 1056.66,1221.73 1056.46,1220.98 1056.17,1220.28 1055.78,1219.61 1055.3,1218.97 1054.73,1218.35 1054.08,1217.75 1053.38,1217.14 1052.64,1216.53 1051.88,1215.91 1051.13,1215.26 1050.42,1214.58 1049.76,1213.88 1049.18,1213.14 1048.7,1212.36 1048.34,1211.56 1048.09,1210.73 1047.98,1209.88 1048,1209.02 1048.15,1208.15 1048.41,1207.28 1048.78,1206.41 1049.23,1205.56 1049.75,1204.72 1050.3,1203.9 1050.87,1203.1 1051.43,1202.32 1051.95,1201.55 1052.41,1200.8 1052.81,1200.06 1053.11,1199.32 1053.31,1198.57 1053.41,1197.82 1053.41,1197.04 1053.31,1196.25 1053.12,1195.43 1052.87,1194.58 1052.56,1193.71 1052.22,1192.81 1051.88,1191.89 1051.56,1190.96 1051.28,1190.01 1051.06,1189.07 1050.93,1188.14 1050.9,1187.23 1050.98,1186.35 1051.19,1185.51 1051.52,1184.72 1051.97,1183.98 1052.53,1183.3 1053.19,1182.68 1053.94,1182.11 1054.76,1181.6 1055.63,1181.13 1056.52,1180.7 1057.41,1180.29 1058.28,1179.89 1059.12,1179.49 1059.9,1179.08 1060.61,1178.63 1061.24,1178.14 1061.79,1177.59 1062.25,1176.99 1062.64,1176.32 1062.95,1175.58 1063.2,1174.78 1063.4,1173.91 1063.57,1173 1063.73,1172.06 1063.89,1171.09 1064.08,1170.12 1064.31,1169.16 1064.59,1168.24 1064.94,1167.37 1065.37,1166.56 1065.88,1165.84 1066.48,1165.22 1067.16,1164.7 1067.92,1164.28 1068.74,1163.98 1069.63,1163.77 1070.56,1163.65 1071.53,1163.62 1072.51,1163.65 1073.5,1163.72 1074.48,1163.81 1075.43,1163.9 1076.36,1163.97 1077.24,1164 1078.08,1163.97 1078.87,1163.86 1079.62,1163.66 1080.32,1163.37 1080.99,1162.98 1081.63,1162.5 1082.25,1161.93 1082.85,1161.28 1083.46,1160.58 1084.07,1159.84 1084.69,1159.08 1085.34,1158.33 1086.02,1157.62 1086.72,1156.96 1087.46,1156.38 1088.24,1155.9 1089.04,1155.54 1089.87,1155.29 1090.72,1155.18 1091.58,1155.2 1092.45,1155.35 1093.32,1155.61 1094.19,1155.98 1095.04,1156.43 1095.88,1156.95 1096.7,1157.5 1097.5,1158.07 1098.28,1158.63 1099.05,1159.15 1099.8,1159.61 1100.54,1160.01 1101.28,1160.31 1102.03,1160.51 1102.78,1160.61 1103.56,1160.61 1104.35,1160.51 1105.17,1160.32 1106.02,1160.07 1106.89,1159.76 1107.79,1159.42 1108.71,1159.08 1109.64,1158.76 1110.59,1158.48 1111.53,1158.26 1112.46,1158.13 1113.37,1158.1 1114.25,1158.18 1115.09,1158.39 1115.88,1158.72 1116.62,1159.17 1117.3,1159.73 1117.92,1160.39 1118.49,1161.14 1119,1161.96 1119.47,1162.83 1119.9,1163.72 1120.31,1164.61 1120.71,1165.48 1121.11,1166.32 1121.52,1167.1 1121.97,1167.81 1122.46,1168.44 1123.01,1168.99 1123.61,1169.45 1124.28,1169.84 1125.02,1170.15 1125.82,1170.4 1126.69,1170.6 1127.6,1170.77 1128.54,1170.93 1129.51,1171.09 1130.48,1171.28 1131.44,1171.51 1132.36,1171.79 1133.23,1172.14 1134.04,1172.57 1134.76,1173.08 1135.38,1173.68 1135.9,1174.36 1136.32,1175.12 1136.62,1175.94 1136.83,1176.83 1136.95,1177.76 1136.98,1178.73 1136.95,1179.71 1136.88,1180.7 1136.79,1181.68 1136.7,1182.63 1136.63,1183.56 1136.6,1184.44 1136.63,1185.28 1136.74,1186.07 1136.94,1186.82 1137.23,1187.52 1137.62,1188.19 1138.1,1188.83 1138.67,1189.45 1139.32,1190.05 1140.02,1190.66 1140.76,1191.27 1141.52,1191.89 1142.27,1192.54 1142.98,1193.22 1143.64,1193.92 1144.22,1194.66 1144.7,1195.44 1145.06,1196.24 1145.31,1197.07 1145.42,1197.92 1145.4,1198.78 1145.25,1199.65 1144.99,1200.52 1144.62,1201.39 1144.17,1202.24 1143.65,1203.08 1143.1,1203.9" fill="none" stroke="#222" stroke-width="0.9"/>
<g transform="translate(1040 1150) scale(0.09375)">
<rect x="535" y="225" width="135" height="150" fill="#555"/>
<rect x="385" y="375" width="150" height="122" fill="#5c5c5c"/>
<rect x="535" y="375" width="135" height="122" fill="#4c4c4c"/>
<rect x="690" y="375" width="140" height="122" fill="#333"/>
<path d="M548,635 Q580,540 680,500 L680,635 Z" fill="#333"/>
<path d="M600,360 L640,430 M625,355 L660,420 M655,370 L680,425 M535,400 L560,470 M560,470 L600,500" stroke="#fff" stroke-width="10" fill="none" stroke-linecap="round"/>
<path d="M560,540 Q640,500 700,440" stroke="#fff" stroke-width="14" fill="none"/>
</g>
<text transform="translate(1089.07 1219.2) scale(1.1503 1)" font-family="'Liberation Sans', sans-serif" font-style="italic" font-size="4.95" fill="#555" textLength="13.74" lengthAdjust="spacingAndGlyphs">ACER</text>
<text transform="translate(1074.62 1234.03) scale(0.8988 1)" font-family="'Liberation Sans', sans-serif" font-style="italic" font-size="6.74" fill="#333" stroke="#333" stroke-width="0.2" stroke-linejoin="round" textLength="52.42" lengthAdjust="spacingAndGlyphs">JULIO DE VEDIA</text>
</g>
</svg>
</body>
</html>
